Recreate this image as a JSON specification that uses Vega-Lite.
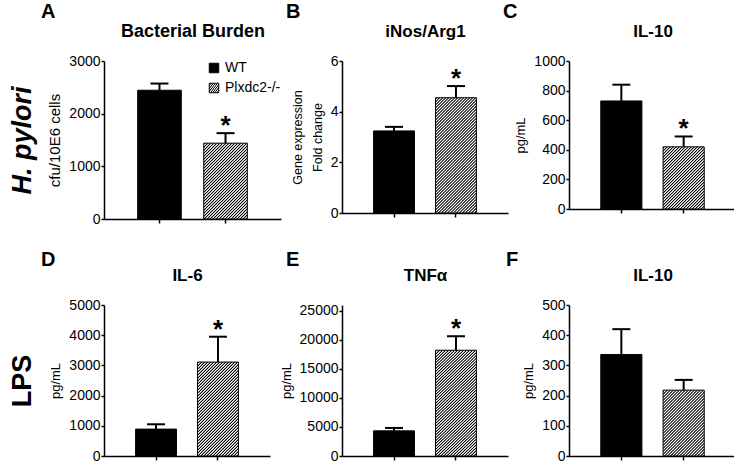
{
"$schema": "https://vega.github.io/schema/vega-lite/v6.json",
"background": "white",
"padding": {"left": 8, "top": 2, "right": 2, "bottom": 0},
"params": [
{"name": "hs", "expr": "[{offset:0,color:'#fff'},{offset:0.005,color:'#000'},{offset:0.007,color:'#000'},{offset:0.012,color:'#fff'},{offset:0.015,color:'#fff'},{offset:0.02,color:'#000'},{offset:0.022,color:'#000'},{offset:0.027,color:'#fff'},{offset:0.03,color:'#fff'},{offset:0.035,color:'#000'},{offset:0.037,color:'#000'},{offset:0.042,color:'#fff'},{offset:0.045,color:'#fff'},{offset:0.05,color:'#000'},{offset:0.052,color:'#000'},{offset:0.057,color:'#fff'},{offset:0.06,color:'#fff'},{offset:0.065,color:'#000'},{offset:0.067,color:'#000'},{offset:0.072,color:'#fff'},{offset:0.075,color:'#fff'},{offset:0.08,color:'#000'},{offset:0.082,color:'#000'},{offset:0.087,color:'#fff'},{offset:0.09,color:'#fff'},{offset:0.095,color:'#000'},{offset:0.097,color:'#000'},{offset:0.102,color:'#fff'},{offset:0.105,color:'#fff'},{offset:0.11,color:'#000'},{offset:0.112,color:'#000'},{offset:0.117,color:'#fff'},{offset:0.12,color:'#fff'},{offset:0.125,color:'#000'},{offset:0.127,color:'#000'},{offset:0.132,color:'#fff'},{offset:0.135,color:'#fff'},{offset:0.14,color:'#000'},{offset:0.142,color:'#000'},{offset:0.147,color:'#fff'},{offset:0.15,color:'#fff'},{offset:0.155,color:'#000'},{offset:0.157,color:'#000'},{offset:0.162,color:'#fff'},{offset:0.165,color:'#fff'},{offset:0.17,color:'#000'},{offset:0.172,color:'#000'},{offset:0.177,color:'#fff'},{offset:0.18,color:'#fff'},{offset:0.185,color:'#000'},{offset:0.187,color:'#000'},{offset:0.192,color:'#fff'},{offset:0.195,color:'#fff'},{offset:0.2,color:'#000'},{offset:0.202,color:'#000'},{offset:0.207,color:'#fff'},{offset:0.21,color:'#fff'},{offset:0.215,color:'#000'},{offset:0.217,color:'#000'},{offset:0.222,color:'#fff'},{offset:0.225,color:'#fff'},{offset:0.23,color:'#000'},{offset:0.232,color:'#000'},{offset:0.237,color:'#fff'},{offset:0.24,color:'#fff'},{offset:0.245,color:'#000'},{offset:0.247,color:'#000'},{offset:0.252,color:'#fff'},{offset:0.255,color:'#fff'},{offset:0.26,color:'#000'},{offset:0.262,color:'#000'},{offset:0.267,color:'#fff'},{offset:0.27,color:'#fff'},{offset:0.275,color:'#000'},{offset:0.277,color:'#000'},{offset:0.282,color:'#fff'},{offset:0.285,color:'#fff'},{offset:0.29,color:'#000'},{offset:0.292,color:'#000'},{offset:0.297,color:'#fff'},{offset:0.3,color:'#fff'},{offset:0.305,color:'#000'},{offset:0.307,color:'#000'},{offset:0.312,color:'#fff'},{offset:0.315,color:'#fff'},{offset:0.32,color:'#000'},{offset:0.322,color:'#000'},{offset:0.327,color:'#fff'},{offset:0.33,color:'#fff'},{offset:0.335,color:'#000'},{offset:0.337,color:'#000'},{offset:0.342,color:'#fff'},{offset:0.345,color:'#fff'},{offset:0.35,color:'#000'},{offset:0.352,color:'#000'},{offset:0.357,color:'#fff'},{offset:0.36,color:'#fff'},{offset:0.365,color:'#000'},{offset:0.367,color:'#000'},{offset:0.372,color:'#fff'},{offset:0.375,color:'#fff'},{offset:0.38,color:'#000'},{offset:0.382,color:'#000'},{offset:0.387,color:'#fff'},{offset:0.39,color:'#fff'},{offset:0.395,color:'#000'},{offset:0.397,color:'#000'},{offset:0.402,color:'#fff'},{offset:0.405,color:'#fff'},{offset:0.41,color:'#000'},{offset:0.412,color:'#000'},{offset:0.417,color:'#fff'},{offset:0.42,color:'#fff'},{offset:0.425,color:'#000'},{offset:0.427,color:'#000'},{offset:0.432,color:'#fff'},{offset:0.435,color:'#fff'},{offset:0.44,color:'#000'},{offset:0.442,color:'#000'},{offset:0.447,color:'#fff'},{offset:0.45,color:'#fff'},{offset:0.455,color:'#000'},{offset:0.457,color:'#000'},{offset:0.462,color:'#fff'},{offset:0.465,color:'#fff'},{offset:0.47,color:'#000'},{offset:0.472,color:'#000'},{offset:0.477,color:'#fff'},{offset:0.48,color:'#fff'},{offset:0.485,color:'#000'},{offset:0.487,color:'#000'},{offset:0.492,color:'#fff'},{offset:0.495,color:'#fff'},{offset:0.5,color:'#000'},{offset:0.502,color:'#000'},{offset:0.507,color:'#fff'},{offset:0.51,color:'#fff'},{offset:0.515,color:'#000'},{offset:0.517,color:'#000'},{offset:0.522,color:'#fff'},{offset:0.525,color:'#fff'},{offset:0.53,color:'#000'},{offset:0.532,color:'#000'},{offset:0.537,color:'#fff'},{offset:0.54,color:'#fff'},{offset:0.545,color:'#000'},{offset:0.547,color:'#000'},{offset:0.552,color:'#fff'},{offset:0.555,color:'#fff'},{offset:0.56,color:'#000'},{offset:0.562,color:'#000'},{offset:0.567,color:'#fff'},{offset:0.57,color:'#fff'},{offset:0.575,color:'#000'},{offset:0.577,color:'#000'},{offset:0.582,color:'#fff'},{offset:0.585,color:'#fff'},{offset:0.59,color:'#000'},{offset:0.592,color:'#000'},{offset:0.597,color:'#fff'},{offset:0.6,color:'#fff'},{offset:0.605,color:'#000'},{offset:0.607,color:'#000'},{offset:0.612,color:'#fff'},{offset:0.615,color:'#fff'},{offset:0.62,color:'#000'},{offset:0.622,color:'#000'},{offset:0.627,color:'#fff'},{offset:0.63,color:'#fff'},{offset:0.635,color:'#000'},{offset:0.637,color:'#000'},{offset:0.642,color:'#fff'},{offset:0.645,color:'#fff'},{offset:0.65,color:'#000'},{offset:0.652,color:'#000'},{offset:0.657,color:'#fff'},{offset:0.66,color:'#fff'},{offset:0.665,color:'#000'},{offset:0.667,color:'#000'},{offset:0.672,color:'#fff'},{offset:0.675,color:'#fff'},{offset:0.68,color:'#000'},{offset:0.682,color:'#000'},{offset:0.687,color:'#fff'},{offset:0.69,color:'#fff'},{offset:0.695,color:'#000'},{offset:0.697,color:'#000'},{offset:0.702,color:'#fff'},{offset:0.705,color:'#fff'},{offset:0.71,color:'#000'},{offset:0.712,color:'#000'},{offset:0.717,color:'#fff'},{offset:0.72,color:'#fff'},{offset:0.725,color:'#000'},{offset:0.727,color:'#000'},{offset:0.732,color:'#fff'},{offset:0.735,color:'#fff'},{offset:0.74,color:'#000'},{offset:0.742,color:'#000'},{offset:0.747,color:'#fff'},{offset:0.75,color:'#fff'},{offset:0.755,color:'#000'},{offset:0.757,color:'#000'},{offset:0.762,color:'#fff'},{offset:0.765,color:'#fff'},{offset:0.77,color:'#000'},{offset:0.772,color:'#000'},{offset:0.777,color:'#fff'},{offset:0.78,color:'#fff'},{offset:0.785,color:'#000'},{offset:0.787,color:'#000'},{offset:0.792,color:'#fff'},{offset:0.795,color:'#fff'},{offset:0.8,color:'#000'},{offset:0.802,color:'#000'},{offset:0.807,color:'#fff'},{offset:0.81,color:'#fff'},{offset:0.815,color:'#000'},{offset:0.817,color:'#000'},{offset:0.822,color:'#fff'}]"},
{"name": "hA", "expr": "{gradient:'linear',x1:0,y1:0,x2:1.140,y2:1.982,stops:hs}"},
{"name": "hB", "expr": "{gradient:'linear',x1:0,y1:0,x2:0.5468,y2:1.541,stops:hs}"},
{"name": "hC", "expr": "{gradient:'linear',x1:0,y1:0,x2:1.4803,y2:2.239,stops:hs}"},
{"name": "hD", "expr": "{gradient:'linear',x1:0,y1:0,x2:0.7795,y2:1.790,stops:hs}"},
{"name": "hE", "expr": "{gradient:'linear',x1:0,y1:0,x2:0.5940,y2:1.597,stops:hs}"},
{"name": "hF", "expr": "{gradient:'linear',x1:0,y1:0,x2:1.3646,y2:2.186,stops:hs}"}
],
"datasets": {
"d": [
{"p": "A", "g": "WT", "mean": 2445, "upper": 2572, "sig": ""},
{"p": "A", "g": "Plxdc2-/-", "mean": 1440, "upper": 1630, "sig": "*"},
{"p": "B", "g": "WT", "mean": 3.24, "upper": 3.40, "sig": ""},
{"p": "B", "g": "Plxdc2-/-", "mean": 4.55, "upper": 5.01, "sig": "*"},
{"p": "C", "g": "WT", "mean": 730, "upper": 840, "sig": ""},
{"p": "C", "g": "Plxdc2-/-", "mean": 420, "upper": 490, "sig": "*"},
{"p": "D", "g": "WT", "mean": 890, "upper": 1050, "sig": ""},
{"p": "D", "g": "Plxdc2-/-", "mean": 3110, "upper": 3950, "sig": "*"},
{"p": "E", "g": "WT", "mean": 4330, "upper": 4830, "sig": ""},
{"p": "E", "g": "Plxdc2-/-", "mean": 18210, "upper": 20620, "sig": "*"},
{"p": "F", "g": "WT", "mean": 336, "upper": 420, "sig": ""},
{"p": "F", "g": "Plxdc2-/-", "mean": 218, "upper": 252, "sig": ""}
]
},
"columns": 3,
"bounds": "flush",
"spacing": {"row": 86, "column": 61},
"resolve": {"scale": {"color": "independent"}, "legend": {"color": "independent"}},
"concat": [
{
"width": 177, "height": 158,
"title": {"text": "A", "anchor": "start", "frame": "group", "dx": -63, "offset": 0},
"data": {"name": "d"},
"transform": [{"filter": "datum.p === 'A'"}],
"resolve": {"axis": {"x": "independent", "y": "independent"}},
"layer": [
{"mark": {"type": "bar", "stroke": "black", "strokeWidth": 1},
"encoding": {
"x": {"field": "g", "type": "nominal", "sort": ["WT", "Plxdc2-/-"], "scale": {"paddingInner": 0.34, "paddingOuter": 0.51}, "axis": {"orient": "bottom", "labels": false, "title": null, "tickSize": 4}},
"y": {"field": "mean", "type": "quantitative", "scale": {"domain": [0, 3000]}, "axis": {"values": [0, 1000, 2000, 3000], "format": "d", "title": "cfu/10E6 cells", "titleFontSize": 15}},
"color": {"field": "g", "type": "nominal", "scale": {"domain": ["WT", "Plxdc2-/-"], "range": ["black", {"expr": "hA"}]}, "legend": {"orient": "top-right", "title": null, "symbolType": "square", "symbolSize": 90, "symbolStrokeColor": "black", "symbolStrokeWidth": 1, "labelFontSize": 14, "rowPadding": 6, "offset": 0, "padding": 0}}
}},
{"mark": {"type": "rule", "strokeWidth": 2, "color": "black"},
"encoding": {
"x": {"field": "g", "type": "nominal", "sort": ["WT", "Plxdc2-/-"], "axis": {"orient": "top", "title": "Bacterial Burden", "labels": false, "ticks": false, "domain": false, "titlePadding": 21, "titleFontSize": 18, "titleFontWeight": "bold"}},
"y": {"field": "mean", "type": "quantitative", "axis": {"orient": "left", "title": "H. pylori", "labels": false, "ticks": false, "domain": false, "offset": 74, "titlePadding": 0, "titleBaseline": "alphabetic", "titleFontSize": 27, "titleFontWeight": "bold", "titleFontStyle": "italic"}},
"y2": {"field": "upper"}
}},
{"mark": {"type": "tick", "orient": "horizontal", "size": 18, "thickness": 2, "color": "black", "opacity": 1},
"encoding": {
"x": {"field": "g", "type": "nominal", "sort": ["WT", "Plxdc2-/-"], "axis": null},
"y": {"field": "upper", "type": "quantitative", "axis": null}
}},
{"mark": {"type": "text", "fontSize": 26, "fontWeight": "bold", "color": "black", "baseline": "alphabetic", "dy": 1},
"encoding": {
"x": {"field": "g", "type": "nominal", "sort": ["WT", "Plxdc2-/-"], "axis": null},
"y": {"field": "upper", "type": "quantitative", "axis": null},
"text": {"field": "sig"}
}}
]
},
{
"width": 166, "height": 152,
"title": {"text": "B", "anchor": "start", "frame": "group", "dx": -56, "offset": 0},
"data": {"name": "d"},
"transform": [{"filter": "datum.p === 'B'"}],
"resolve": {"axis": {"x": "independent", "y": "independent"}},
"layer": [
{"mark": {"type": "bar", "stroke": "black", "strokeWidth": 1},
"encoding": {
"x": {"field": "g", "type": "nominal", "sort": ["WT", "Plxdc2-/-"], "scale": {"paddingInner": 0.34, "paddingOuter": 0.51}, "axis": {"orient": "bottom", "labels": false, "title": null, "tickSize": 4}},
"y": {"field": "mean", "type": "quantitative", "scale": {"domain": [0, 6]}, "axis": {"values": [0, 2, 4, 6], "format": "d", "title": ["Gene expression", "Fold change"], "titleFontSize": 12.5, "titleLineHeight": 20}},
"color": {"field": "g", "type": "nominal", "scale": {"domain": ["WT", "Plxdc2-/-"], "range": ["black", {"expr": "hB"}]}, "legend": null}
}},
{"mark": {"type": "rule", "strokeWidth": 2, "color": "black"},
"encoding": {
"x": {"field": "g", "type": "nominal", "sort": ["WT", "Plxdc2-/-"], "axis": {"orient": "top", "title": "iNos/Arg1", "labels": false, "ticks": false, "domain": false, "titlePadding": 21, "titleFontSize": 17, "titleFontWeight": "bold"}},
"y": {"field": "mean", "type": "quantitative", "axis": null},
"y2": {"field": "upper"}
}},
{"mark": {"type": "tick", "orient": "horizontal", "size": 18, "thickness": 2, "color": "black", "opacity": 1},
"encoding": {
"x": {"field": "g", "type": "nominal", "sort": ["WT", "Plxdc2-/-"], "axis": null},
"y": {"field": "upper", "type": "quantitative", "axis": null}
}},
{"mark": {"type": "text", "fontSize": 26, "fontWeight": "bold", "color": "black", "baseline": "alphabetic", "dy": 1},
"encoding": {
"x": {"field": "g", "type": "nominal", "sort": ["WT", "Plxdc2-/-"], "axis": null},
"y": {"field": "upper", "type": "quantitative", "axis": null},
"text": {"field": "sig"}
}}
]
},
{
"width": 167, "height": 148,
"title": {"text": "C", "anchor": "start", "frame": "group", "dx": -66, "offset": 0},
"data": {"name": "d"},
"transform": [{"filter": "datum.p === 'C'"}],
"resolve": {"axis": {"x": "independent", "y": "independent"}},
"layer": [
{"mark": {"type": "bar", "stroke": "black", "strokeWidth": 1},
"encoding": {
"x": {"field": "g", "type": "nominal", "sort": ["WT", "Plxdc2-/-"], "scale": {"paddingInner": 0.34, "paddingOuter": 0.51}, "axis": {"orient": "bottom", "labels": false, "title": null, "tickSize": 4}},
"y": {"field": "mean", "type": "quantitative", "scale": {"domain": [0, 1000]}, "axis": {"values": [0, 200, 400, 600, 800, 1000], "format": "d", "title": "pg/mL"}},
"color": {"field": "g", "type": "nominal", "scale": {"domain": ["WT", "Plxdc2-/-"], "range": ["black", {"expr": "hC"}]}, "legend": null}
}},
{"mark": {"type": "rule", "strokeWidth": 2, "color": "black"},
"encoding": {
"x": {"field": "g", "type": "nominal", "sort": ["WT", "Plxdc2-/-"], "axis": {"orient": "top", "title": "IL-10", "labels": false, "ticks": false, "domain": false, "titlePadding": 21, "titleFontSize": 17, "titleFontWeight": "bold"}},
"y": {"field": "mean", "type": "quantitative", "axis": null},
"y2": {"field": "upper"}
}},
{"mark": {"type": "tick", "orient": "horizontal", "size": 18, "thickness": 2, "color": "black", "opacity": 1},
"encoding": {
"x": {"field": "g", "type": "nominal", "sort": ["WT", "Plxdc2-/-"], "axis": null},
"y": {"field": "upper", "type": "quantitative", "axis": null}
}},
{"mark": {"type": "text", "fontSize": 26, "fontWeight": "bold", "color": "black", "baseline": "alphabetic", "dy": 1},
"encoding": {
"x": {"field": "g", "type": "nominal", "sort": ["WT", "Plxdc2-/-"], "axis": null},
"y": {"field": "upper", "type": "quantitative", "axis": null},
"text": {"field": "sig"}
}}
]
},
{
"width": 166, "height": 151,
"title": {"text": "D", "anchor": "start", "frame": "group", "dx": -63, "offset": -4},
"data": {"name": "d"},
"transform": [{"filter": "datum.p === 'D'"}],
"resolve": {"axis": {"x": "independent", "y": "independent"}},
"layer": [
{"mark": {"type": "bar", "stroke": "black", "strokeWidth": 1},
"encoding": {
"x": {"field": "g", "type": "nominal", "sort": ["WT", "Plxdc2-/-"], "scale": {"paddingInner": 0.34, "paddingOuter": 0.51}, "axis": {"orient": "bottom", "labels": false, "title": null, "tickSize": 4}},
"y": {"field": "mean", "type": "quantitative", "scale": {"domain": [0, 5000]}, "axis": {"values": [0, 1000, 2000, 3000, 4000, 5000], "format": "d", "title": "pg/mL"}},
"color": {"field": "g", "type": "nominal", "scale": {"domain": ["WT", "Plxdc2-/-"], "range": ["black", {"expr": "hD"}]}, "legend": null}
}},
{"mark": {"type": "rule", "strokeWidth": 2, "color": "black"},
"encoding": {
"x": {"field": "g", "type": "nominal", "sort": ["WT", "Plxdc2-/-"], "axis": {"orient": "top", "title": "IL-6", "labels": false, "ticks": false, "domain": false, "titlePadding": 21, "titleFontSize": 17, "titleFontWeight": "bold"}},
"y": {"field": "mean", "type": "quantitative", "axis": {"orient": "left", "title": "LPS", "labels": false, "ticks": false, "domain": false, "offset": 74, "titlePadding": 0, "titleBaseline": "alphabetic", "titleFontSize": 27, "titleFontWeight": "bold"}},
"y2": {"field": "upper"}
}},
{"mark": {"type": "tick", "orient": "horizontal", "size": 18, "thickness": 2, "color": "black", "opacity": 1},
"encoding": {
"x": {"field": "g", "type": "nominal", "sort": ["WT", "Plxdc2-/-"], "axis": null},
"y": {"field": "upper", "type": "quantitative", "axis": null}
}},
{"mark": {"type": "text", "fontSize": 26, "fontWeight": "bold", "color": "black", "baseline": "alphabetic", "dy": 1},
"encoding": {
"x": {"field": "g", "type": "nominal", "sort": ["WT", "Plxdc2-/-"], "axis": null},
"y": {"field": "upper", "type": "quantitative", "axis": null},
"text": {"field": "sig"}
}}
]
},
{
"width": 166, "height": 151,
"title": {"text": "E", "anchor": "start", "frame": "group", "dx": -56, "offset": -4},
"data": {"name": "d"},
"transform": [{"filter": "datum.p === 'E'"}],
"resolve": {"axis": {"x": "independent", "y": "independent"}},
"layer": [
{"mark": {"type": "bar", "stroke": "black", "strokeWidth": 1},
"encoding": {
"x": {"field": "g", "type": "nominal", "sort": ["WT", "Plxdc2-/-"], "scale": {"paddingInner": 0.34, "paddingOuter": 0.51}, "axis": {"orient": "bottom", "labels": false, "title": null, "tickSize": 4}},
"y": {"field": "mean", "type": "quantitative", "scale": {"domain": [0, 25000]}, "axis": {"values": [0, 5000, 10000, 15000, 20000, 25000], "format": "d", "title": "pg/mL"}},
"color": {"field": "g", "type": "nominal", "scale": {"domain": ["WT", "Plxdc2-/-"], "range": ["black", {"expr": "hE"}]}, "legend": null}
}},
{"mark": {"type": "rule", "strokeWidth": 2, "color": "black"},
"encoding": {
"x": {"field": "g", "type": "nominal", "sort": ["WT", "Plxdc2-/-"], "axis": {"orient": "top", "title": "TNFα", "labels": false, "ticks": false, "domain": false, "titlePadding": 21, "titleFontSize": 17, "titleFontWeight": "bold"}},
"y": {"field": "mean", "type": "quantitative", "axis": null},
"y2": {"field": "upper"}
}},
{"mark": {"type": "tick", "orient": "horizontal", "size": 18, "thickness": 2, "color": "black", "opacity": 1},
"encoding": {
"x": {"field": "g", "type": "nominal", "sort": ["WT", "Plxdc2-/-"], "axis": null},
"y": {"field": "upper", "type": "quantitative", "axis": null}
}},
{"mark": {"type": "text", "fontSize": 26, "fontWeight": "bold", "color": "black", "baseline": "alphabetic", "dy": 1},
"encoding": {
"x": {"field": "g", "type": "nominal", "sort": ["WT", "Plxdc2-/-"], "axis": null},
"y": {"field": "upper", "type": "quantitative", "axis": null},
"text": {"field": "sig"}
}}
]
},
{
"width": 167, "height": 151,
"title": {"text": "F", "anchor": "start", "frame": "group", "dx": -63, "offset": -4},
"data": {"name": "d"},
"transform": [{"filter": "datum.p === 'F'"}],
"resolve": {"axis": {"x": "independent", "y": "independent"}},
"layer": [
{"mark": {"type": "bar", "stroke": "black", "strokeWidth": 1},
"encoding": {
"x": {"field": "g", "type": "nominal", "sort": ["WT", "Plxdc2-/-"], "scale": {"paddingInner": 0.34, "paddingOuter": 0.51}, "axis": {"orient": "bottom", "labels": false, "title": null, "tickSize": 4}},
"y": {"field": "mean", "type": "quantitative", "scale": {"domain": [0, 500]}, "axis": {"values": [0, 100, 200, 300, 400, 500], "format": "d", "title": "pg/mL"}},
"color": {"field": "g", "type": "nominal", "scale": {"domain": ["WT", "Plxdc2-/-"], "range": ["black", {"expr": "hF"}]}, "legend": null}
}},
{"mark": {"type": "rule", "strokeWidth": 2, "color": "black"},
"encoding": {
"x": {"field": "g", "type": "nominal", "sort": ["WT", "Plxdc2-/-"], "axis": {"orient": "top", "title": "IL-10", "labels": false, "ticks": false, "domain": false, "titlePadding": 21, "titleFontSize": 17, "titleFontWeight": "bold"}},
"y": {"field": "mean", "type": "quantitative", "axis": null},
"y2": {"field": "upper"}
}},
{"mark": {"type": "tick", "orient": "horizontal", "size": 18, "thickness": 2, "color": "black", "opacity": 1},
"encoding": {
"x": {"field": "g", "type": "nominal", "sort": ["WT", "Plxdc2-/-"], "axis": null},
"y": {"field": "upper", "type": "quantitative", "axis": null}
}},
{"mark": {"type": "text", "fontSize": 26, "fontWeight": "bold", "color": "black", "baseline": "alphabetic", "dy": 1},
"encoding": {
"x": {"field": "g", "type": "nominal", "sort": ["WT", "Plxdc2-/-"], "axis": null},
"y": {"field": "upper", "type": "quantitative", "axis": null},
"text": {"field": "sig"}
}}
]
}
],
"config": {
"font": "Liberation Sans",
"view": {"stroke": null},
"axis": {"grid": false, "domainColor": "black", "domainWidth": 1.5, "tickColor": "black", "tickWidth": 1.5, "labelColor": "black", "titleColor": "black", "labelFontSize": 14, "titleFontSize": 13, "titleFontWeight": "normal", "labelFont": "Liberation Sans", "titleFont": "Liberation Sans"},
"axisY": {"tickSize": 3, "labelPadding": 1, "titlePadding": 6},
"title": {"fontSize": 20, "fontWeight": "bold", "color": "black", "font": "Liberation Sans", "baseline": "alphabetic"},
"legend": {"labelFontSize": 14, "labelColor": "black", "labelFont": "Liberation Sans"}
}
}
